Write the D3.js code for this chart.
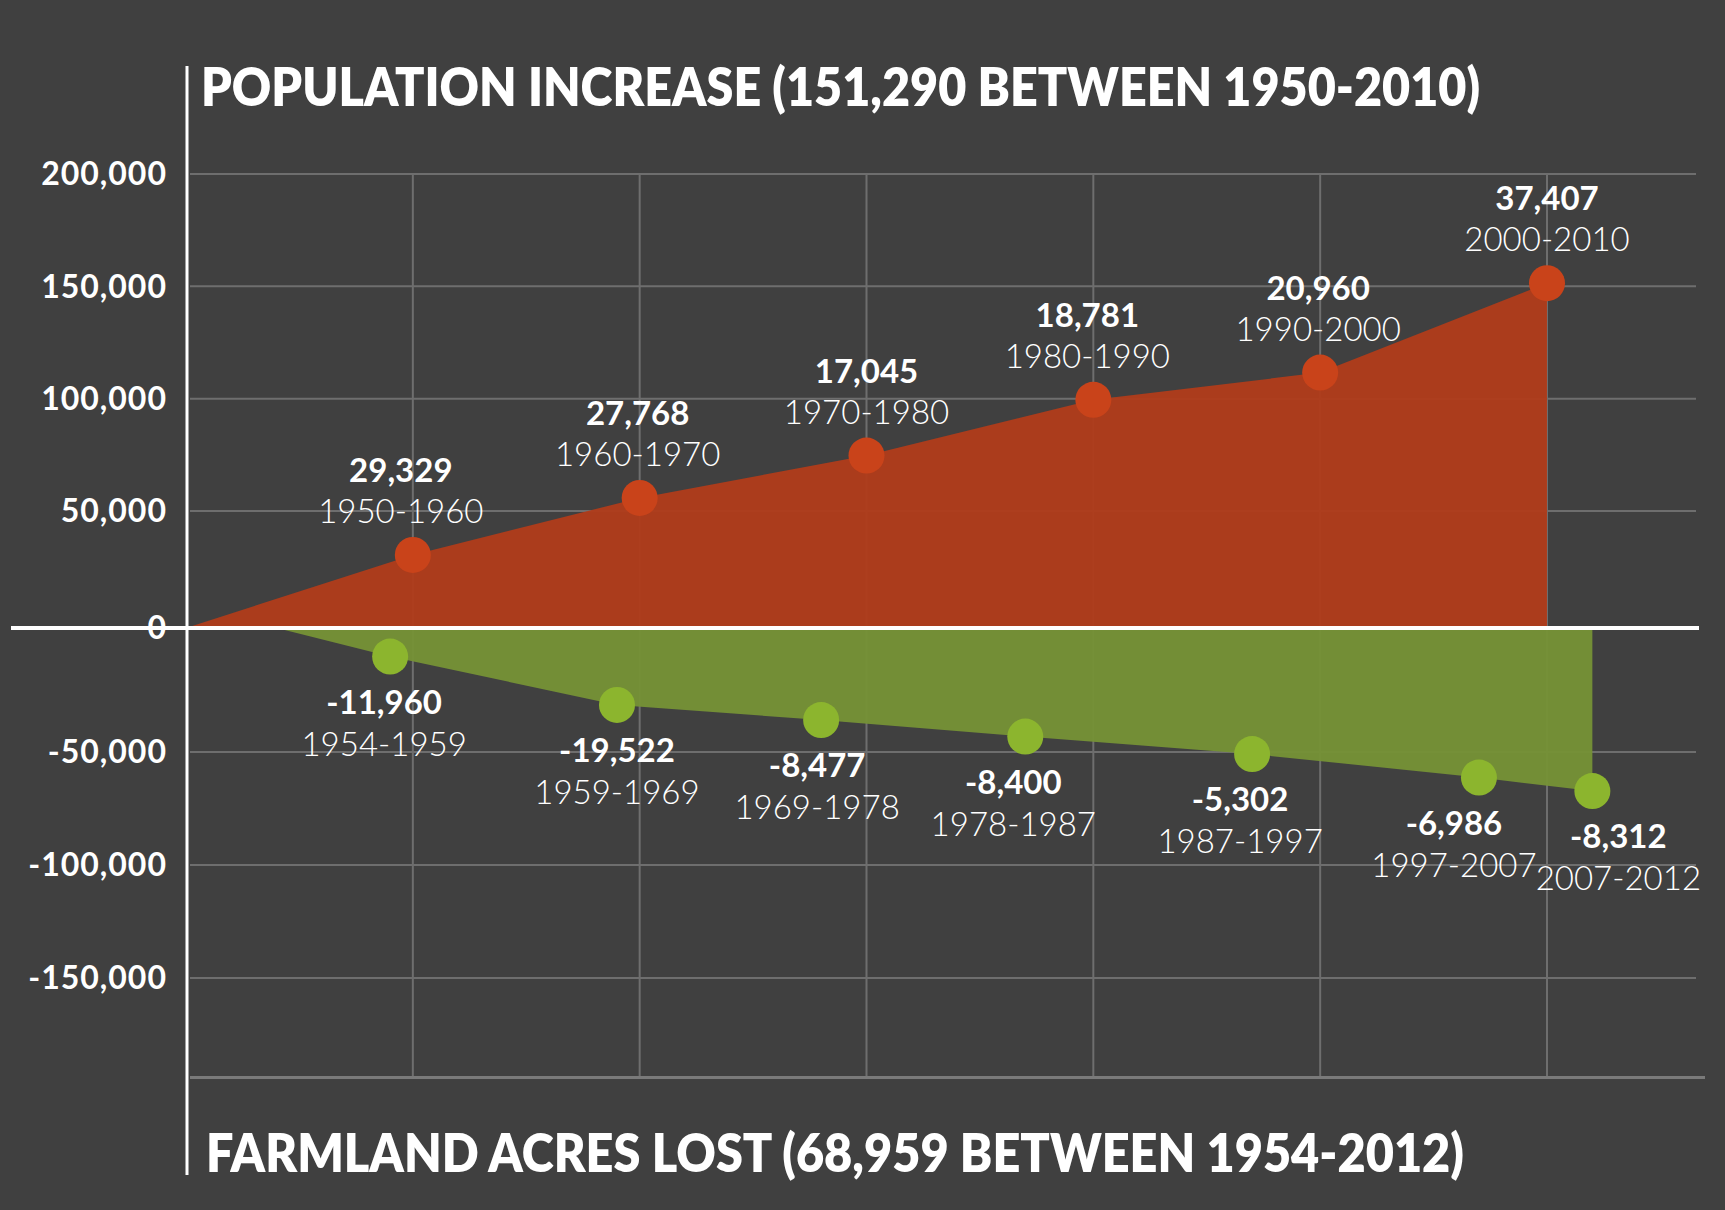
<!DOCTYPE html>
<html>
<head>
<meta charset="utf-8">
<script src="https://d3js.org/d3.v7.min.js"></script>
<style>
  body { margin: 0; background: #404040; }
  text { font-family: Lato, "Open Sans", sans-serif; fill: #fff; }
</style>
</head>
<body>
<div id="chart"></div>
<script>
// population: cumulative increase as plotted, plus the per-decade labels
var popYears = [1950, 1960, 1970, 1980, 1990, 2000, 2010];
var popTotal = [0, 31200, 55800, 74700, 99500, 111600, 151400];
var popIncrease = [29329, 27768, 17045, 18781, 20960, 37407];
var popPeriods = ["1950-1960", "1960-1970", "1970-1980", "1980-1990", "1990-2000", "2000-2010"];

// farmland: cumulative acres lost as plotted, plus the per-period labels
var farmYears = [1954, 1959, 1969, 1978, 1987, 1997, 2007, 2012];
var farmTotal = [0, -11500, -31000, -37100, -43800, -50900, -61300, -67300];
var farmLost = [-11960, -19522, -8477, -8400, -5302, -6986, -8312];
var farmPeriods = ["1954-1959", "1959-1969", "1969-1978", "1978-1987", "1987-1997", "1997-2007", "2007-2012"];

var yTicks = [200000, 150000, 100000, 50000, 0, -50000, -100000, -150000];
var gridYears = [1960, 1970, 1980, 1990, 2000, 2010];

var topTitle = "POPULATION INCREASE (151,290 BETWEEN 1950-2010)";
var bottomTitle = "FARMLAND ACRES LOST (68,959 BETWEEN 1954-2012)";

var W = 1725, H = 1210;

var svg = d3.select("#chart").append("svg")
    .attr("width", W).attr("height", H);

svg.append("rect").attr("width", W).attr("height", H).attr("fill", "#404040");

var x = d3.scaleLinear().domain([1950, 2010]).range([186, 1547]);
// the picture's gridlines are not evenly spaced around zero, so a piecewise scale
var y = d3.scaleLinear()
    .domain([-150000, -50000, 0, 50000, 200000])
    .range([978, 752, 628, 511, 174]);

var fmt = d3.formatLocale({decimal: ".", thousands: ",", grouping: [3], currency: ["$", ""], minus: "-"}).format(",");

var frameBottom = y(-194000);

// grid
var grid = svg.append("g").attr("stroke", "#6e6e6e").attr("stroke-width", 2);
grid.selectAll(".h").data(yTicks.filter(function(d) { return d != 0; }))
  .enter().append("line")
    .attr("x1", 190).attr("x2", 1696)
    .attr("y1", function(d) { return y(d); })
    .attr("y2", function(d) { return y(d); });
grid.selectAll(".v").data(gridYears)
  .enter().append("line")
    .attr("x1", function(d) { return x(d); })
    .attr("x2", function(d) { return x(d); })
    .attr("y1", y(200000)).attr("y2", frameBottom);
svg.append("line")
    .attr("x1", 190).attr("x2", 1705)
    .attr("y1", frameBottom).attr("y2", frameBottom)
    .attr("stroke", "#7a7a7a").attr("stroke-width", 3);

// areas
var area = d3.area()
    .x(function(d) { return x(d[0]); })
    .y0(y(0))
    .y1(function(d) { return y(d[1]); });

svg.append("path")
    .datum(d3.zip(popYears, popTotal))
    .attr("d", area)
    .attr("fill", "#b13c19").attr("fill-opacity", 0.94);

svg.append("path")
    .datum(d3.zip(farmYears, farmTotal))
    .attr("d", area)
    .attr("fill", "#769335").attr("fill-opacity", 0.94);

// zero line and left axis line
svg.append("line")
    .attr("x1", 11).attr("x2", 1699)
    .attr("y1", y(0)).attr("y2", y(0))
    .attr("stroke", "#fff").attr("stroke-width", 4);
svg.append("line")
    .attr("x1", 187).attr("x2", 187)
    .attr("y1", 66).attr("y2", 1175)
    .attr("stroke", "#fff").attr("stroke-width", 3);

// y axis labels
var yAxis = svg.append("g")
    .attr("transform", "translate(172,0)")
    .call(d3.axisLeft(y).tickValues(yTicks).tickSize(0).tickPadding(5).tickFormat(fmt));
yAxis.select(".domain").remove();
yAxis.selectAll("text")
    .attr("fill", "#fff")
    .attr("dy", "0.34em")
    .style("font-family", "Lato, sans-serif")
    .style("font-size", "32px")
    .style("font-weight", "700")
    .style("letter-spacing", "1px");

// points
var popPts = d3.zip(popYears, popTotal).slice(1);
var farmPts = d3.zip(farmYears, farmTotal).slice(1);

svg.selectAll(".popdot").data(popPts).enter().append("circle")
    .attr("cx", function(d) { return x(d[0]); })
    .attr("cy", function(d) { return y(d[1]); })
    .attr("r", 18).attr("fill", "#c9431a");

svg.selectAll(".farmdot").data(farmPts).enter().append("circle")
    .attr("cx", function(d) { return x(d[0]); })
    .attr("cy", function(d) { return y(d[1]); })
    .attr("r", 18).attr("fill", "#8cb52e");

// point labels (small horizontal nudges as in the picture)
var popDx = [-12, -2, 0, -6, -2, 0];
var farmDx = [-6, 0, -4, -12, -12, -25, 26];

function labels(pts, values, periods, dx, valDy, perDy) {
  pts.forEach(function(d, i) {
    var cx = x(d[0]) + dx[i], cy = y(d[1]);
    svg.append("text")
        .attr("x", cx).attr("y", cy + valDy)
        .attr("text-anchor", "middle")
        .style("font-size", "33px").style("font-weight", "700")
        .text(fmt(values[i]));
    svg.append("text")
        .attr("x", cx).attr("y", cy + perDy)
        .attr("text-anchor", "middle")
        .style("font-size", "33px").style("font-weight", "300")
        .text(periods[i]);
  });
}
labels(popPts, popIncrease, popPeriods, popDx, -73, -32);
labels(farmPts, farmLost, farmPeriods, farmDx, 57, 99);

// titles
svg.append("text")
    .attr("x", 201).attr("y", 106)
    .attr("textLength", 1279).attr("lengthAdjust", "spacingAndGlyphs")
    .style("font-size", "53px").style("font-weight", "800")
    .text(topTitle);

svg.append("text")
    .attr("x", 206).attr("y", 1172)
    .attr("textLength", 1258).attr("lengthAdjust", "spacingAndGlyphs")
    .style("font-size", "53px").style("font-weight", "800")
    .text(bottomTitle);
</script>
</body>
</html>
